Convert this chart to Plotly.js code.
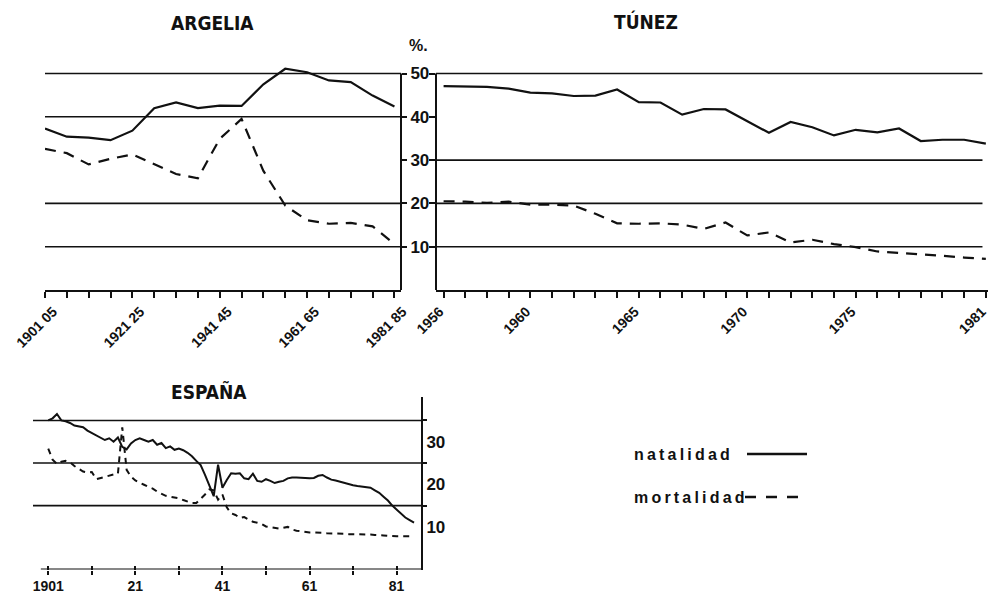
<!DOCTYPE html>
<html>
<head>
<meta charset="utf-8">
<script src="https://cdn.plot.ly/plotly-3.0.1.min.js"></script>
<style>
html,body{margin:0;padding:0;background:#fff;}
#chart{width:989px;height:595px;}
</style>
</head>
<body>
<div id="chart"></div>
<script>
// ---------- DATA ----------
// ARGELIA (quinquennial periods)
const argeliaPeriods = ["1901 05","1906 10","1911 15","1916 20","1921 25","1926 30","1931 35","1936 40","1941 45","1946 50","1951 55","1956 60","1961 65","1966 70","1971 75","1976 80","1981 85"];
const argeliaLabeled = ["1901 05","1921 25","1941 45","1961 65","1981 85"];
const argeliaNatalidad  = [37.3, 35.4, 35.2, 34.6, 36.8, 42.0, 43.3, 42.0, 42.6, 42.5, 47.5, 51.1, 50.3, 48.4, 48.0, 44.9, 42.4];
const argeliaMortalidad = [32.6, 31.6, 29.0, 30.3, 31.3, 29.1, 26.8, 25.8, 34.9, 39.5, 27.5, 19.5, 16.1, 15.3, 15.5, 14.7, 10.6];

// TÚNEZ (annual)
const tunezYears = [1956,1957,1958,1959,1960,1961,1962,1963,1964,1965,1966,1967,1968,1969,1970,1971,1972,1973,1974,1975,1976,1977,1978,1979,1980,1981];
const tunezLabeled = [1956,1960,1965,1970,1975,1981];
const tunezNatalidad  = [47.1,47.0,46.9,46.5,45.6,45.4,44.8,44.9,46.3,43.4,43.3,40.5,41.8,41.7,39.0,36.3,38.8,37.6,35.7,37.0,36.4,37.3,34.4,34.7,34.7,33.8];
const tunezMortalidad = [20.5,20.4,20.1,20.4,19.7,19.7,19.5,17.6,15.4,15.3,15.4,15.1,14.1,15.6,12.6,13.3,11.0,11.6,10.6,9.9,8.9,8.6,8.3,7.9,7.5,7.2];

// ESPAÑA (annual 1901-1985)
const espanaYears = [];
for (let y = 1901; y <= 1985; y++) espanaYears.push(y);
const espanaNatalidad = [
 35.0,35.5,36.5,35.0,34.8,34.4,33.8,33.6,33.4,32.6,
 32.0,31.6,31.0,30.4,30.8,30.0,31.0,28.8,28.2,29.6,
 30.4,30.8,30.4,30.0,30.4,29.3,29.7,28.5,28.9,28.1,
 28.4,28.0,27.4,26.6,25.5,24.5,22.2,19.5,17.2,24.6,
 19.2,21.0,22.6,22.5,22.6,21.4,21.2,22.5,20.8,20.6,
 21.2,20.8,20.3,20.6,20.8,21.4,21.6,21.6,21.6,21.5,
 21.4,21.5,22.0,22.2,21.6,21.1,20.9,20.6,20.3,20.1,
 19.8,19.6,19.5,19.3,19.2,18.6,18.0,17.1,16.2,15.0,
 14.0,13.0,12.2,11.6,11.0];
const espanaMortalidad = [
 28.4,25.8,24.8,25.3,25.5,25.2,24.3,23.7,23.0,22.8,
 22.9,21.2,21.5,21.8,22.0,22.3,22.5,33.4,23.4,21.8,
 20.9,20.3,19.9,19.4,19.0,18.3,17.8,17.3,17.1,16.9,
 16.7,16.3,16.0,15.6,15.6,16.5,17.6,18.8,18.6,16.4,
 17.6,14.6,13.2,12.8,12.1,12.3,11.8,11.2,11.0,10.7,
 10.1,9.9,9.7,9.6,9.8,10.0,9.4,9.1,9.0,8.8,
 8.7,8.7,8.7,8.6,8.5,8.5,8.5,8.4,8.4,8.3,
 8.3,8.3,8.3,8.2,8.2,8.1,8.1,8.0,7.9,7.8,
 7.8,7.8,7.8,7.8,7.8];
const espanaTicks = [1901,1911,1921,1931,1941,1951,1961,1971,1981];
const espanaTickText = ["1901","","21","","41","","61","","81"];

const topGrid = {argelia:[10,20,40,50], tunez:[10,20,30,50]};
const topTicks = [10,20,30,40,50];
const espanaGrid = [15,25,35];
const espanaLabels = [10,20,30];

const titles = {argelia:"ARGELIA", tunez:"TÚNEZ", espana:"ESPAÑA"};
const unitLabel = "%.";
const legendNames = {nat:"natalidad", mort:"mortalidad"};

// ---------- HELPERS ----------
const W = 989, H = 595;
const px = v => v / W;
const py = v => 1 - v / H;
const INK = "#111";
const cond = "DejaVu Sans Condensed, Liberation Sans Narrow, Liberation Sans, sans-serif";
const sans = "Liberation Sans, Arial, sans-serif";
const spaced = s => s.split("").join("\u2009");

const traces = [
  {x: argeliaPeriods, y: argeliaNatalidad, xaxis:"x", yaxis:"y", mode:"lines", line:{color:INK, width:2.2}, name:legendNames.nat, showlegend:false},
  {x: argeliaPeriods, y: argeliaMortalidad, xaxis:"x", yaxis:"y", mode:"lines", line:{color:INK, width:2.2, dash:"11px,8px"}, name:legendNames.mort, showlegend:false},
  {x: tunezYears, y: tunezNatalidad, xaxis:"x2", yaxis:"y2", mode:"lines", line:{color:INK, width:2.2}, showlegend:false},
  {x: tunezYears, y: tunezMortalidad, xaxis:"x2", yaxis:"y2", mode:"lines", line:{color:INK, width:2.2, dash:"11px,8px"}, showlegend:false},
  {x: espanaYears, y: espanaNatalidad, xaxis:"x3", yaxis:"y3", mode:"lines", line:{color:INK, width:2}, showlegend:false},
  {x: espanaYears, y: espanaMortalidad, xaxis:"x3", yaxis:"y3", mode:"lines", line:{color:INK, width:2, dash:"6px,5px"}, showlegend:false},
  {x: [espanaYears[0]], y: [0], xaxis:"x4", yaxis:"y4", mode:"markers", marker:{opacity:0}, hoverinfo:"skip", showlegend:false}
];

const topDomY = [py(290), py(290 - 52*4.33)];
const tickFontBig = {family: sans, size: 17, color: INK, weight: "bold"};
const rotFont = {family: sans, size: 14, color: INK, weight: "bold"};

const layout = {
  width: W, height: H,
  margin: {l:0, r:0, t:0, b:0},
  paper_bgcolor: "#fff", plot_bgcolor: "rgba(0,0,0,0)",
  showlegend: false,
  xaxis: {
    domain: [px(45), px(401)], anchor: "y", type: "category",
    range: [0, 16.3], showgrid: false, zeroline: false,
    showline: true, linecolor: INK, linewidth: 2,
    ticks: "outside", ticklen: 6, tickwidth: 2, tickcolor: INK,
    tickvals: argeliaPeriods,
    ticktext: argeliaPeriods.map(p => argeliaLabeled.includes(p) ? p : ""),
    tickangle: -45, tickfont: rotFont, ticklabelshift: 8, ticklabeloverflow: "allow"
  },
  yaxis: {
    domain: topDomY, anchor: "x", side: "right",
    range: [0, 52], showgrid: false, zeroline: false, showline: false,
    ticks: "outside", ticklen: 5, tickwidth: 2, tickcolor: INK,
    tickvals: topTicks, tickfont: tickFontBig
  },
  xaxis2: {
    domain: [px(436), px(988)], anchor: "y2",
    range: [1955.65, 1981.1], showgrid: false, zeroline: false,
    showline: true, linecolor: INK, linewidth: 2,
    ticks: "outside", ticklen: 6, tickwidth: 2, tickcolor: INK,
    tickvals: tunezYears,
    ticktext: tunezYears.map(y => tunezLabeled.includes(y) ? String(y) : ""),
    tickangle: -45, tickfont: rotFont, ticklabelshift: -4, ticklabeloverflow: "allow"
  },
  yaxis2: {
    domain: topDomY, anchor: "x2", side: "left",
    range: [0, 52], showgrid: false, zeroline: false, showline: false,
    ticks: "outside", ticklen: 6, tickwidth: 2, tickcolor: INK,
    tickvals: topTicks, showticklabels: false
  },
  xaxis3: {
    domain: [px(33), px(421)], anchor: "y3",
    range: [1897.5, 1986.6], showgrid: false, zeroline: false, showline: false,
    ticks: "outside", ticklen: 4, tickwidth: 2, tickcolor: INK,
    tickvals: espanaTicks, ticktext: espanaTickText,
    tickfont: {family: sans, size: 14, color: INK, weight: "bold"}
  },
  yaxis3: {
    domain: [py(569.5), py(397)], anchor: "x3", side: "right",
    range: [0, 40.5], showgrid: false, zeroline: false,
    showline: true, linecolor: INK, linewidth: 2,
    ticks: "", tickvals: espanaLabels, tickfont: tickFontBig
  },
  xaxis4: {
    overlaying: "x3", anchor: "y3", side: "bottom",
    range: [1897.5, 1986.6], showgrid: false, zeroline: false, showline: false,
    ticks: "inside", ticklen: 4, tickwidth: 2, tickcolor: INK,
    tickvals: espanaTicks, showticklabels: false
  },
  yaxis4: {
    overlaying: "y3", anchor: "x3", side: "right",
    range: [0, 40.5], showgrid: false, zeroline: false, showline: false,
    ticks: "outside", ticklen: 5, tickwidth: 2, tickcolor: INK,
    tickvals: espanaGrid, showticklabels: false
  },
  shapes: [],
  annotations: []
};

// gridlines
topGrid.argelia.forEach(v => layout.shapes.push({type:"line", xref:"x domain", yref:"y", x0:0, x1:1, y0:v, y1:v, line:{color:INK, width:1.6}}));
topGrid.tunez.forEach(v => layout.shapes.push({type:"line", xref:"x2 domain", yref:"y2", x0:0, x1:0.99, y0:v, y1:v, line:{color:INK, width:1.6}}));
espanaGrid.forEach(v => layout.shapes.push({type:"line", xref:"x3 domain", yref:"y3", x0:0, x1:1, y0:v, y1:v, line:{color:INK, width:1.6}}));
// axis lines
layout.shapes.push({type:"line", xref:"x domain", yref:"y", x0:1, x1:1, y0:0, y1:50, line:{color:INK, width:2}});
layout.shapes.push({type:"line", xref:"x2 domain", yref:"y2", x0:0, x1:0, y0:0, y1:50, line:{color:INK, width:2}});
layout.shapes.push({type:"line", xref:"x3", yref:"y3", x0:1899.3, x1:1986.6, y0:0, y1:0, line:{color:INK, width:2}});
// legend keys
layout.shapes.push({type:"line", xref:"paper", yref:"paper", x0:px(747), x1:px(807), y0:py(454), y1:py(454), line:{color:INK, width:2.6}});
layout.shapes.push({type:"line", xref:"paper", yref:"paper", x0:px(745), x1:px(808), y0:py(497), y1:py(497), line:{color:INK, width:2.6, dash:"11px,10px"}});

const ann = (text, x, y, font, xanchor) => layout.annotations.push({
  text, x: px(x), y: py(y), xref:"paper", yref:"paper", showarrow:false,
  xanchor: xanchor || "center", yanchor:"middle", font
});
const titleFont = {family: cond, size: 19, color: INK, weight: "bold"};
ann(titles.argelia, 212, 23, titleFont);
ann(titles.tunez, 646, 22, titleFont);
ann(titles.espana, 209, 391, titleFont);
ann(unitLabel, 418, 46, {family: sans, size: 16, color: INK, weight: "bold"});
ann(spaced(legendNames.nat), 632, 454, {family: sans, size: 16, color: INK, weight: "bold"}, "left");
ann(spaced(legendNames.mort), 632, 497, {family: sans, size: 16, color: INK, weight: "bold"}, "left");

Plotly.newPlot("chart", traces, layout, {staticPlot: true, displayModeBar: false});
</script>
</body>
</html>
